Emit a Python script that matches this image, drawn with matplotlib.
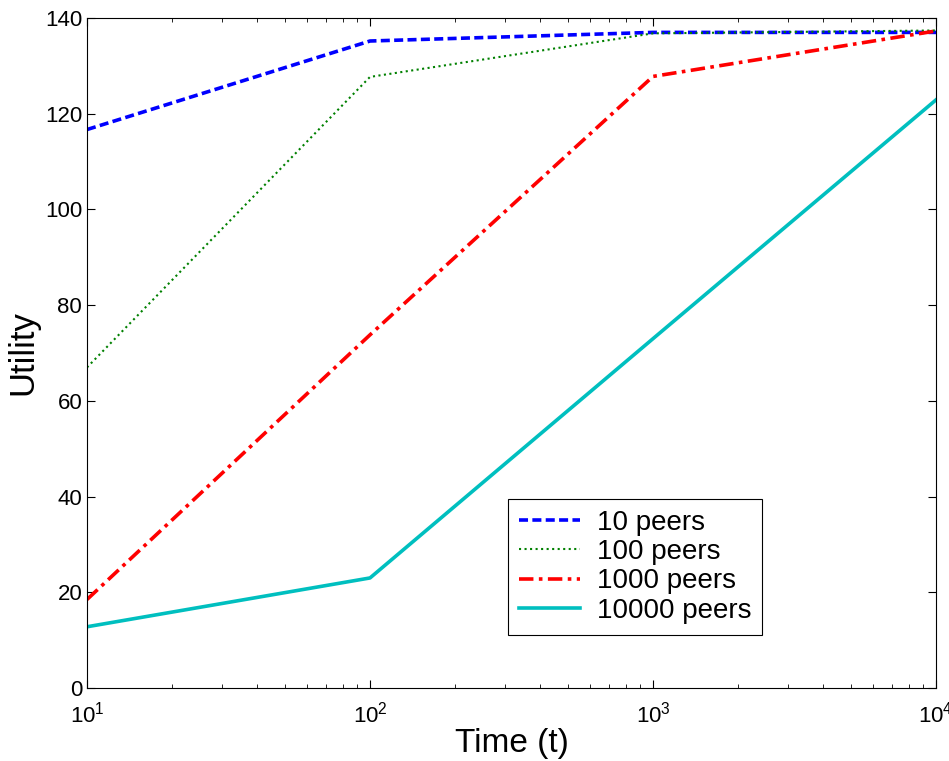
import matplotlib
matplotlib.use('Agg')
import matplotlib.pyplot as plt

plt.rcParams['font.family'] = ['Liberation Sans', 'DejaVu Sans']
plt.rcParams['mathtext.fontset'] = 'custom'
plt.rcParams['mathtext.rm'] = 'Liberation Sans'

# data
t = [10, 100, 1000, 10000]
peers_10 = [116.7, 135.2, 137.0, 137.0]
peers_100 = [67.0, 127.7, 136.8, 137.4]
peers_1000 = [18.5, 73.8, 127.8, 137.3]
peers_10000 = [12.8, 23.0, 73.0, 122.9]
labels = ['10 peers', '100 peers', '1000 peers', '10000 peers']

fig = plt.figure(figsize=(9.49, 7.61), dpi=100)
ax = fig.add_axes([0.0917, 0.0959, 0.8946, 0.8804])

ax.plot(t, peers_10, '--', color='#0000ff', lw=2.6, dashes=(2.5, 1.2), label=labels[0])
ax.plot(t, peers_100, ':', color='#008000', lw=1.5, label=labels[1])
ax.plot(t, peers_1000, '-.', color='#ff0000', lw=2.6, dashes=(4, 1.5, 1, 1.5), label=labels[2])
ax.plot(t, peers_10000, '-', color='#00bfbf', lw=2.6, label=labels[3])

ax.set_xscale('log')
ax.set_xlim(10, 10000)
ax.set_ylim(0, 140)
ax.set_yticks(range(0, 141, 20))
ax.tick_params(which='both', direction='in', top=True, right=True, labelsize=16)
ax.tick_params(which='major', length=6)
ax.tick_params(which='minor', length=3)
ax.tick_params(axis='x', pad=10)

ax.set_xlabel('Time (t)', fontsize=24, labelpad=0)
ax.set_ylabel('Utility', fontsize=25, labelpad=4)

leg = ax.legend(loc='lower left', bbox_to_anchor=(0.486, 0.067), fontsize=20,
                fancybox=False, framealpha=1, edgecolor='black',
                handlelength=2.2, handletextpad=0.6, borderpad=0.4,
                borderaxespad=0.3, labelspacing=0.12)
leg.get_frame().set_linewidth(0.8)

fig.savefig('out.png', dpi=100)
